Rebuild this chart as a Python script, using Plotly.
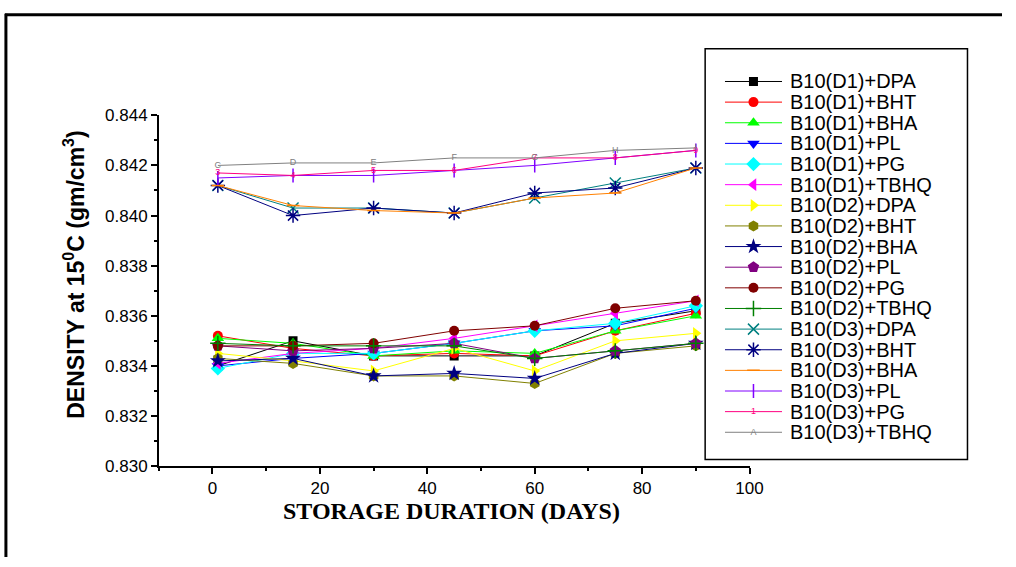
import plotly.graph_objects as go

W, H = 1016, 567

days = [1, 15, 30, 45, 60, 75, 90]

names = [
    "B10(D1)+DPA", "B10(D1)+BHT", "B10(D1)+BHA", "B10(D1)+PL", "B10(D1)+PG", "B10(D1)+TBHQ",
    "B10(D2)+DPA", "B10(D2)+BHT", "B10(D2)+BHA", "B10(D2)+PL", "B10(D2)+PG", "B10(D2)+TBHQ",
    "B10(D3)+DPA", "B10(D3)+BHT", "B10(D3)+BHA", "B10(D3)+PL", "B10(D3)+PG", "B10(D3)+TBHQ",
]

d1_dpa = [0.8340, 0.8350, 0.8344, 0.8344, 0.8344, 0.8357, 0.8362]
d1_bht = [0.8352, 0.8347, 0.8344, 0.8345, 0.8344, 0.8354, 0.8361]
d1_bha = [0.8351, 0.8349, 0.8344, 0.8346, 0.8345, 0.8354, 0.8360]
d1_pl = [0.8340, 0.8343, 0.8345, 0.8349, 0.8354, 0.8356, 0.8363]
d1_pg = [0.8339, 0.8345, 0.8345, 0.8349, 0.8354, 0.8357, 0.8364]
d1_tbhq = [0.8341, 0.8345, 0.8347, 0.8351, 0.8356, 0.8361, 0.8366]
d2_dpa = [0.8345, 0.8342, 0.8338, 0.8347, 0.8338, 0.8350, 0.8353]
d2_bht = [0.8343, 0.8341, 0.8336, 0.8336, 0.8333, 0.8345, 0.8348]
d2_bha = [0.8342, 0.8343, 0.8336, 0.8337, 0.8335, 0.8345, 0.8349]
d2_pl = [0.8348, 0.8346, 0.8347, 0.8349, 0.8343, 0.8346, 0.8349]
d2_pg = [0.8348, 0.8348, 0.8349, 0.8354, 0.8356, 0.8363, 0.8366]
d2_tbhq = [0.8349, 0.8348, 0.8348, 0.8348, 0.8343, 0.8346, 0.8349]
d3_dpa = [0.8412, 0.8403, 0.8403, 0.8401, 0.8407, 0.8413, 0.8419]
d3_bht = [0.8412, 0.8400, 0.8403, 0.8401, 0.8409, 0.8411, 0.8419]
d3_bha = [0.8412, 0.8404, 0.8402, 0.8401, 0.8407, 0.8409, 0.8419]
d3_pl = [0.8415, 0.8416, 0.8416, 0.8418, 0.8420, 0.8423, 0.8426]
d3_pg = [0.8417, 0.8416, 0.8418, 0.8418, 0.8423, 0.8423, 0.8426]
d3_tbhq = [0.8420, 0.8421, 0.8421, 0.8423, 0.8423, 0.8426, 0.8427]

series = [d1_dpa, d1_bht, d1_bha, d1_pl, d1_pg, d1_tbhq,
          d2_dpa, d2_bht, d2_bha, d2_pl, d2_pg, d2_tbhq,
          d3_dpa, d3_bht, d3_bha, d3_pl, d3_pg, d3_tbhq]

# point labels used as markers by the last two series
pg_labels = ["3", "4", "5", "6", "7", "8", "9"]
tbhq_labels = ["C", "D", "E", "F", "G", "H", "I"]
legend_text_markers = {16: "1", 17: "A"}

x_ticks = [0, 20, 40, 60, 80, 100]
y_ticks = [0.830, 0.832, 0.834, 0.836, 0.838, 0.840, 0.842, 0.844]
y_ticktext = ["0.830", "0.832", "0.834", "0.836", "0.838", "0.840", "0.842", "0.844"]

colors = ["#000000", "#ff0000", "#00ff00", "#0000ff", "#00ffff", "#ff00ff",
          "#ffff00", "#808000", "#000080", "#800080", "#800000", "#008000",
          "#008080", "#000080", "#ff8000", "#8000ff", "#ff0080", "#808080"]

symbols = ["square", "circle", "triangle-up", "triangle-down", "diamond", "triangle-left",
           "triangle-right", "hexagon", "star", "pentagon", "circle", "cross-thin-open",
           "x-thin-open", "asterisk-open", "line-ew-open", "line-ns-open", None, None]
sizes = [9, 10, 11, 11, 11, 11, 11, 11, 12, 12, 10, 11, 11, 12, 9, 10, 0, 0]

fig = go.Figure()

for i, (nm, ys) in enumerate(zip(names, series)):
    col = colors[i]
    if i == 16 or i == 17:
        fig.add_trace(go.Scatter(
            x=days, y=ys, name=nm, mode="lines+text",
            text=pg_labels if i == 16 else tbhq_labels,
            textposition="middle center",
            textfont=dict(family="Liberation Sans, Arial", size=9, color=col),
            line=dict(color=col, width=1), showlegend=False))
    else:
        fig.add_trace(go.Scatter(
            x=days, y=ys, name=nm, mode="lines+markers",
            line=dict(color=col, width=1),
            marker=dict(symbol=symbols[i], size=sizes[i], color=col,
                        line=dict(color=col, width=1.5 if symbols[i].endswith("open") else 0)),
            showlegend=False))

# ---- hand-built legend (on its own hidden axes) ----
rows = list(range(len(names)))
for i, nm in enumerate(names):
    col = colors[i]
    fig.add_trace(go.Scatter(x=[0, 1], y=[rows[i], rows[i]], mode="lines",
                             line=dict(color=col, width=1), xaxis="x2", yaxis="y2",
                             showlegend=False, hoverinfo="skip"))
    if i in legend_text_markers:
        fig.add_trace(go.Scatter(x=[0.5], y=[rows[i]], mode="text",
                                 text=[legend_text_markers[i]],
                                 textfont=dict(family="Liberation Sans, Arial", size=9, color=col),
                                 xaxis="x2", yaxis="y2", showlegend=False, hoverinfo="skip"))
    else:
        fig.add_trace(go.Scatter(x=[0.5], y=[rows[i]], mode="markers",
                                 marker=dict(symbol=symbols[i], size=sizes[i], color=col,
                                             line=dict(color=col, width=1.5 if symbols[i].endswith("open") else 0)),
                                 xaxis="x2", yaxis="y2", showlegend=False, hoverinfo="skip"))
    fig.add_annotation(x=799 / W, xref="paper", y=rows[i], yref="y2", text=nm,
                       showarrow=False, xanchor="left", yanchor="middle",
                       font=dict(family="Liberation Sans, Arial", size=20, color="#000000"))

def px_x(p):
    return p / W

def px_y(p):
    return (H - p) / H

axis_font = dict(family="Liberation Sans, Arial", size=17, color="#000000")

fig.update_layout(
    width=W, height=H,
    margin=dict(l=0, r=0, t=0, b=0),
    paper_bgcolor="white", plot_bgcolor="white",
    showlegend=False,
    xaxis=dict(domain=[px_x(161), px_x(760)], range=[-10, 100],
               tickmode="array", tickvals=x_ticks,
               ticks="outside", ticklen=6, tickwidth=1.5, tickcolor="black",
               minor=dict(dtick=10, ticks="outside", ticklen=3, tickwidth=1.5, tickcolor="black"),
               showline=True, linecolor="black", linewidth=1.5, showgrid=False, zeroline=False,
               tickfont=axis_font, anchor="y"),
    yaxis=dict(domain=[px_y(473), px_y(110)], range=[0.830, 0.844],
               tickmode="array", tickvals=y_ticks, ticktext=y_ticktext,
               ticks="outside", ticklen=6, tickwidth=1.5, tickcolor="black",
               minor=dict(dtick=0.001, ticks="outside", ticklen=3, tickwidth=1.5, tickcolor="black"),
               showline=True, linecolor="black", linewidth=1.5, showgrid=False, zeroline=False,
               tickfont=axis_font, anchor="x"),
    xaxis2=dict(domain=[px_x(735), px_x(793)], range=[0, 1], visible=False, anchor="y2",
                fixedrange=True),
    yaxis2=dict(domain=[px_y(75 + 21.35 * 17 + 10.675), px_y(75 - 10.675)],
                range=[17.5, -0.5], visible=False, anchor="x2", fixedrange=True),
)

# legend frame
fig.add_shape(type="rect", xref="paper", yref="paper",
              x0=px_x(715), x1=px_x(981), y0=px_y(466), y1=px_y(41),
              line=dict(color="black", width=1.5), fillcolor="white", layer="below")
# outer page frame (top & left edges)
fig.add_shape(type="line", xref="paper", yref="paper",
              x0=px_x(5), x1=px_x(1016), y0=px_y(6), y1=px_y(6),
              line=dict(color="black", width=3))
fig.add_shape(type="line", xref="paper", yref="paper",
              x0=px_x(6), x1=px_x(6), y0=px_y(5), y1=px_y(567),
              line=dict(color="black", width=3))

# axis titles
fig.add_annotation(x=px_x(75), y=px_y(275), xref="paper", yref="paper",
                   text="<b>DENSITY at 15<sup>0</sup>C (gm/cm<sup>3</sup>)</b>",
                   textangle=-90, showarrow=False, xanchor="center", yanchor="middle",
                   font=dict(family="Liberation Sans, Arial", size=23, color="black"))
fig.add_annotation(x=px_x(458), y=px_y(519), xref="paper", yref="paper",
                   text="<b>STORAGE DURATION (DAYS)</b>",
                   showarrow=False, xanchor="center", yanchor="middle",
                   font=dict(family="Liberation Serif, Times New Roman", size=24, color="black"))

fig.write_html("out.html")
